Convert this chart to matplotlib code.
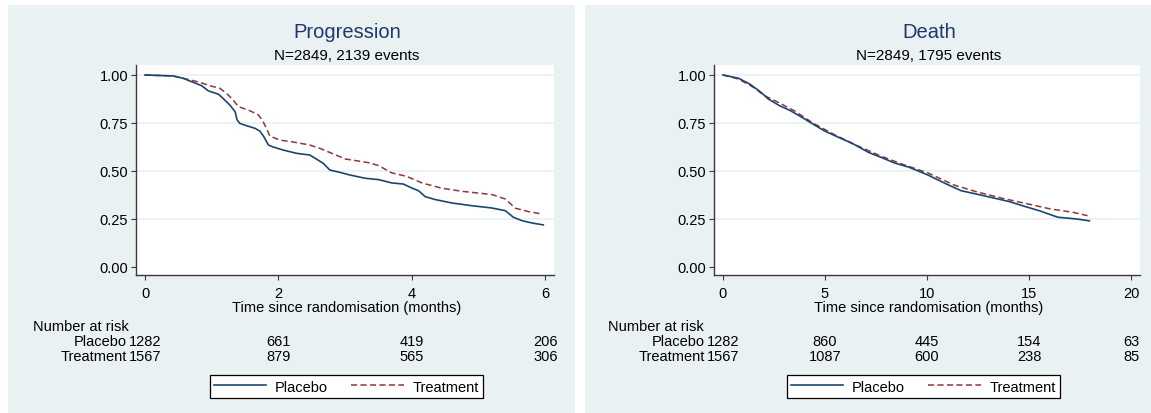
import matplotlib
matplotlib.use("Agg")
import matplotlib.pyplot as plt
from matplotlib.patches import Rectangle
from matplotlib.transforms import blended_transform_factory

plt.rcParams['font.family'] = ['Liberation Sans', 'DejaVu Sans']

# ---- Kaplan-Meier estimates: progression ----
prog_t_placebo = [0, 0.42, 0.57, 0.72, 0.85, 0.95, 1.10, 1.17, 1.27, 1.35, 1.38, 1.42,
                  1.52, 1.65, 1.72, 1.78, 1.85, 1.92, 2.07, 2.27, 2.47, 2.55, 2.67, 2.77,
                  2.92, 3.07, 3.30, 3.50, 3.70, 3.87, 4.00, 4.10, 4.20, 4.35, 4.60, 4.90,
                  5.20, 5.40, 5.52, 5.65, 5.80, 5.97]
prog_s_placebo = [1.0, 0.995, 0.983, 0.962, 0.944, 0.917, 0.900, 0.878, 0.844, 0.809, 0.766, 0.748,
                  0.736, 0.722, 0.708, 0.679, 0.635, 0.625, 0.609, 0.592, 0.583, 0.566, 0.540, 0.505,
                  0.493, 0.479, 0.462, 0.455, 0.4375, 0.432, 0.411, 0.397, 0.366, 0.351, 0.333, 0.319,
                  0.307, 0.293, 0.259, 0.241, 0.229, 0.219]
prog_t_treat = [0, 0.42, 0.62, 0.82, 0.97, 1.12, 1.22, 1.32, 1.40, 1.57, 1.70, 1.77, 1.82,
                1.87, 2.02, 2.27, 2.47, 2.62, 2.80, 3.00, 3.37, 3.50, 3.70, 3.92, 4.15,
                4.45, 4.75, 5.20, 5.40, 5.55, 5.75, 5.95]
prog_s_treat = [1.0, 0.995, 0.979, 0.962, 0.944, 0.931, 0.905, 0.870, 0.835, 0.814, 0.792, 0.757, 0.722,
                0.682, 0.661, 0.648, 0.635, 0.618, 0.592, 0.5625, 0.542, 0.528, 0.490, 0.472, 0.4375,
                0.410, 0.394, 0.377, 0.354, 0.306, 0.288, 0.276]

# ---- Kaplan-Meier estimates: death ----
death_t_placebo = [0, 0.76, 1.31, 1.86, 2.22, 2.77, 3.31, 3.86, 4.40, 4.95, 5.67, 6.40, 7.13,
                   7.86, 8.40, 9.13, 10.04, 10.95, 11.68, 12.41, 13.32, 14.05, 14.77, 15.50,
                   16.41, 17.32, 17.96]
death_s_placebo = [1.0, 0.983, 0.953, 0.910, 0.875, 0.840, 0.814, 0.780, 0.745, 0.710, 0.675, 0.640, 0.597,
                   0.566, 0.542, 0.519, 0.479, 0.432, 0.397, 0.380, 0.358, 0.340, 0.316, 0.293,
                   0.259, 0.250, 0.240]
death_t_treat = [0, 0.76, 1.49, 2.04, 2.77, 3.49, 4.40, 5.49, 6.58, 7.68, 8.77, 10.04, 11.32,
                 12.41, 13.68, 14.95, 16.05, 17.14, 17.87]
death_s_treat = [1.0, 0.979, 0.936, 0.892, 0.854, 0.814, 0.750, 0.6875, 0.632, 0.580, 0.536, 0.490, 0.427,
                 0.392, 0.358, 0.328, 0.302, 0.285, 0.267]

# ---- Number at risk tables ----
prog_risk_times = [0, 2, 4, 6]
prog_risk_placebo = [1282, 661, 419, 206]
prog_risk_treat = [1567, 879, 565, 306]
death_risk_times = [0, 5, 10, 15, 20]
death_risk_placebo = [1282, 860, 445, 154, 63]
death_risk_treat = [1567, 1087, 600, 238, 85]

y_ticks = [0.0, 0.25, 0.5, 0.75, 1.0]
arm_labels = ['Placebo', 'Treatment']
titles = ['Progression', 'Death']
subtitles = ['N=2849, 2139 events', 'N=2849, 1795 events']
xlabel = 'Time since randomisation (months)'

NAVY = '#1a476f'
MAROON = '#90353b'
BG = '#eaf1f3'
AXIS = '#3a3a3a'

W, H = 1151, 414
fig = plt.figure(figsize=(W / 100, H / 100), dpi=100, facecolor='white')


def fx(px):
    return px / W


def fy(py):
    return 1 - py / H


# graph region backgrounds
fig.patches.append(Rectangle((fx(8), 0), fx(575 - 8), fy(6), transform=fig.transFigure,
                             facecolor=BG, edgecolor='none', zorder=-10))
fig.patches.append(Rectangle((fx(585), 0), fx(1151 - 585), fy(6), transform=fig.transFigure,
                             facecolor=BG, edgecolor='none', zorder=-10))

panels = [
    dict(rect=[fx(136), fy(276), fx(554 - 136), (276 - 66) / H], xlim=(-0.135, 6.13),
         xticks=prog_risk_times, tp=prog_t_placebo, sp=prog_s_placebo,
         tt=prog_t_treat, st=prog_s_treat, rp=prog_risk_placebo, rt=prog_risk_treat,
         label_px=127, legend_px=346.5),
    dict(rect=[fx(714), fy(276), fx(1140 - 714), (276 - 66) / H], xlim=(-0.44, 20.44),
         xticks=death_risk_times, tp=death_t_placebo, sp=death_s_placebo,
         tt=death_t_treat, st=death_s_treat, rp=death_risk_placebo, rt=death_risk_treat,
         label_px=705, legend_px=923.5),
]

for i, p in enumerate(panels):
    ax = fig.add_axes(p['rect'])
    ax.set_facecolor('white')
    ax.set_xlim(*p['xlim'])
    ax.set_ylim(-0.042, 1.052)
    for yv in y_ticks[1:]:
        ax.axhline(yv, color=BG, lw=1.3, zorder=0)

    l1, = ax.plot(p['tp'], p['sp'], color=NAVY, lw=1.2, zorder=3)
    l2, = ax.plot(p['tt'], p['st'], color=MAROON, lw=1.1, zorder=2, dashes=(4, 2.2))

    ax.set_xticks(p['xticks'])
    ax.set_xticklabels([str(t) for t in p['xticks']])
    ax.set_yticks(y_ticks)
    ax.set_yticklabels([f'{v:.2f}' for v in y_ticks])
    for s in ['top', 'right']:
        ax.spines[s].set_visible(False)
    for s in ['left', 'bottom']:
        ax.spines[s].set_color(AXIS)
        ax.spines[s].set_linewidth(1.0)
    ax.tick_params(axis='both', length=3.6, width=0.8, color=AXIS, labelsize=10.5,
                   labelcolor='black')
    ax.tick_params(axis='y', pad=2)
    ax.tick_params(axis='x', pad=4.2)

    cx = (p['rect'][0] + p['rect'][2] / 2)
    fig.text(cx + fx(2), fy(33), titles[i], ha='center', va='center', fontsize=14.5,
             color='#22386b')
    fig.text(cx + fx(2), fy(56), subtitles[i], ha='center', va='center', fontsize=11)
    fig.text(cx + fx(2), fy(308), xlabel, ha='center', va='center', fontsize=10.5)

    # number at risk table
    tr = blended_transform_factory(ax.transData, fig.transFigure)
    off = 0 if i == 0 else 575
    fig.text(fx(33 + off), fy(327), 'Number at risk', ha='left', va='center', fontsize=10.5)
    fig.text(fx(p['label_px']), fy(342), arm_labels[0], ha='right', va='center', fontsize=10.5)
    fig.text(fx(p['label_px']), fy(357), arm_labels[1], ha='right', va='center', fontsize=10.5)
    for t, a, b in zip(p['xticks'], p['rp'], p['rt']):
        ax.text(t, fy(342), str(a), transform=tr, ha='center', va='center', fontsize=10.5,
                clip_on=False)
        ax.text(t, fy(357), str(b), transform=tr, ha='center', va='center', fontsize=10.5,
                clip_on=False)

    leg = ax.legend([l1, l2], arm_labels, loc='center',
                    bbox_to_anchor=(fx(p['legend_px']), fy(387.5)),
                    bbox_transform=fig.transFigure, ncol=2, frameon=True, fancybox=False,
                    edgecolor='black', facecolor='white', framealpha=1, fontsize=10.5,
                    borderpad=0.3, handlelength=3.6, handletextpad=0.6, columnspacing=1.6,
                    borderaxespad=0)
    leg.get_frame().set_linewidth(0.9)

fig.savefig('out.png', dpi=100, facecolor='white')
